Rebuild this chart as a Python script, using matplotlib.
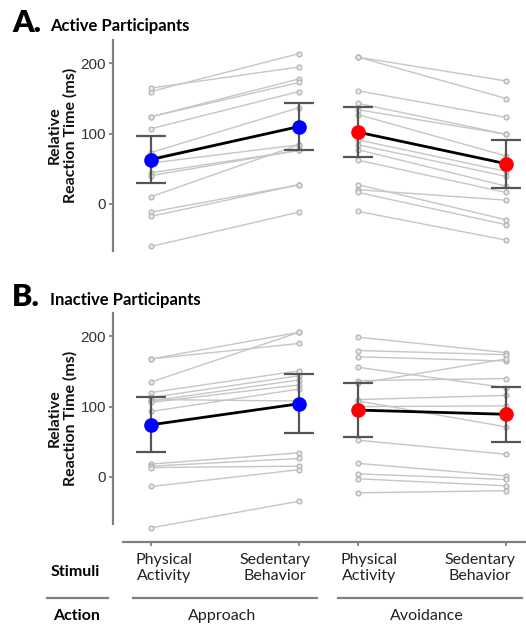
import matplotlib
matplotlib.use("Agg")
import matplotlib.pyplot as plt
from matplotlib.lines import Line2D

# ---------------- data ----------------
conditions = ["Physical\nActivity", "Sedentary\nBehavior", "Physical\nActivity", "Sedentary\nBehavior"]
actions = ["Approach", "Avoidance"]
y_ticks = [0, 100, 200]

# Panel A: Active participants (per-participant values)
a_app_pa = [160, 165, 124, 124, 107, 73, 65, 58, 44, 40, 10, -12, -18, -61]
a_app_sb = [214, 195, 178, 173, 160, 137, 110, 84, 76, 76, 84, 27, 27, -12]
a_av_pa = [209, 209, 161, 143, 134, 127, 91, 84, 77, 62, 27, 20, 16, -11]
a_av_sb = [175, 150, 123, 99, 99, 68, 46, 39, 25, 16, -23, 5, -30, -52]
a_app_mean = [63, 110]
a_app_err = [33, 33.5]
a_av_mean = [102, 57]
a_av_err = [35.5, 34]

# Panel B: Inactive participants
b_app_pa = [168, 168, 135, 120, 113, 110, 108, 106, 93, 18, 15, 13, -14, -73]
b_app_sb = [190, 206, 206, 151, 144, 108, 138, 131, 125, 34, 26, 15, 10, -35]
b_av_pa = [199, 180, 171, 156, 137, 133, 110, 108, 100, 52, 19, 4, -3, -23]
b_av_sb = [177, 174, 165, 127, 140, 168, 116, 71, 101, 32, 1, -4, -13, -20]
b_app_mean = [74, 104]
b_app_err = [39, 42]
b_av_mean = [95, 89]
b_av_err = [38.5, 39]

# ---------------- layout ----------------
W, H = 526, 626
fig = plt.figure(figsize=(W / 100, H / 100), dpi=100)
LAB = "Lato"
NUM = "Liberation Sans"
GRAY = "#808080"

def rect(l, t, r, b):
    return [l / W, 1 - b / H, (r - l) / W, (b - t) / H]

x_app = [0, 1]
x_av = [1.4, 2.4]
xlim = (-0.257, 2.534)
ylim = (-67.5, 233.5)

def draw_panel(ax, app_pa, app_sb, av_pa, av_sb, app_mean, app_err, av_mean, av_err, bottom):
    for xs, pa, sb, mean, err, col in [
        (x_app, app_pa, app_sb, app_mean, app_err, "#0000ff"),
        (x_av, av_pa, av_sb, av_mean, av_err, "#ff0000"),
    ]:
        for v0, v1 in zip(pa, sb):
            ax.plot(xs, [v0, v1], color="#c6c6c6", lw=1.0, marker="o", ms=3.6,
                    mfc="#e6e6e6", mec="#b0b0b0", mew=0.8, zorder=1, clip_on=False)
        ax.errorbar(xs, mean, yerr=err, fmt="none", ecolor="#555555",
                    elinewidth=1.6, capsize=11, capthick=1.6, zorder=4)
        ax.plot(xs, mean, color="black", lw=2, zorder=5)
        ax.plot(xs, mean, linestyle="none", marker="o", ms=9.5, color=col,
                mec=col, zorder=6)
    ax.set_xlim(*xlim)
    ax.set_ylim(*ylim)
    ax.set_yticks(y_ticks)
    ax.set_yticklabels([str(t) for t in y_ticks], fontfamily=NUM, fontsize=11, color="#333333")
    ax.tick_params(axis="y", length=3, width=1.3, color=GRAY, pad=2)
    for s in ["top", "right"]:
        ax.spines[s].set_visible(False)
    ax.spines["left"].set_color(GRAY)
    ax.spines["left"].set_linewidth(1.6)
    if bottom:
        ax.spines["bottom"].set_position(("outward", 13))
        ax.spines["bottom"].set_bounds(-0.19, xlim[1])
        ax.spines["bottom"].set_color(GRAY)
        ax.spines["bottom"].set_linewidth(1.6)
        ax.set_xticks(x_app + x_av)
        ax.set_xticklabels([])
        ax.tick_params(axis="x", length=3, width=1.3, color=GRAY)
    else:
        ax.spines["bottom"].set_visible(False)
        ax.set_xticks([])
    ax.patch.set_alpha(0)

axA = fig.add_axes(rect(113, 40, 526, 251))
draw_panel(axA, a_app_pa, a_app_sb, a_av_pa, a_av_sb, a_app_mean, a_app_err, a_av_mean, a_av_err, False)
axB = fig.add_axes(rect(113, 313, 526, 524))
draw_panel(axB, b_app_pa, b_app_sb, b_av_pa, b_av_sb, b_app_mean, b_app_err, b_av_mean, b_av_err, True)

for ax, yc in [(axA, 0.55), (axB, 0.5)]:
    ax.set_ylabel("Relative\nReaction Time (ms)", fontfamily=LAB, fontweight="bold",
                  fontsize=11.5, linespacing=1.15, color="#111111")
    ax.yaxis.set_label_coords(-0.085, yc)

# panel titles
fig.text(12 / W, 1 - 32 / H, "A.", fontfamily=LAB, fontweight="heavy", fontsize=22, va="baseline")
fig.text(50 / W, 1 - 31 / H, "Active Participants", fontfamily=LAB, fontweight="bold", fontsize=12, va="baseline")
fig.text(12 / W, 1 - 306 / H, "B.", fontfamily=LAB, fontweight="heavy", fontsize=22, va="baseline")
fig.text(50 / W, 1 - 305 / H, "Inactive Participants", fontfamily=LAB, fontweight="bold", fontsize=12, va="baseline")

# bottom category labels
label_x = [164, 275, 369, 480]
for lx, lab in zip(label_x, conditions):
    fig.text(lx / W, 1 - 568 / H, lab, fontfamily=LAB, fontsize=11.5, ha="center", va="center",
             linespacing=1.25, color="#222222")
fig.text(75 / W, 1 - 572 / H, "Stimuli", fontfamily=LAB, fontweight="bold", fontsize=11.5,
         ha="center", va="center")
fig.text(77 / W, 1 - 616 / H, "Action", fontfamily=LAB, fontweight="bold", fontsize=11.5,
         ha="center", va="center")
for cx, lab in zip([222, 427], actions):
    fig.text(cx / W, 1 - 616 / H, lab, fontfamily=LAB, fontsize=11.5, ha="center", va="center",
             color="#222222")
for x0, x1 in [(47, 108), (133, 317), (338, 522)]:
    fig.add_artist(Line2D([x0 / W, x1 / W], [1 - 598 / H] * 2, color=GRAY, lw=1.6))

fig.savefig("out.png", dpi=100)
